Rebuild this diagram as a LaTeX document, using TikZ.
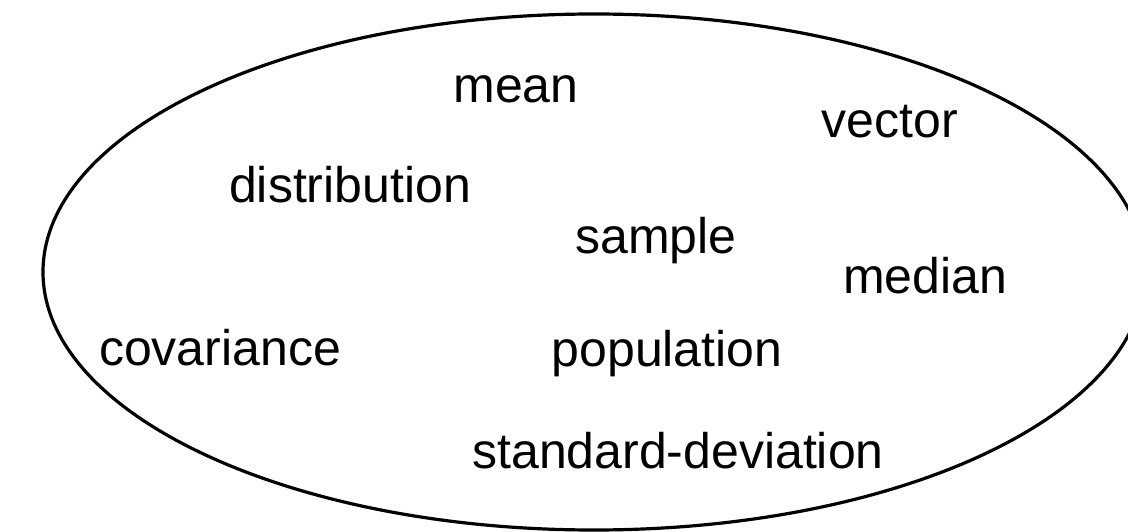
\documentclass[tikz,border=0pt]{standalone}
\usepackage{fontspec}
\setmainfont{Liberation Sans}
\begin{document}
\begin{tikzpicture}[x=1pt,y=-1pt,
  term/.style={font=\fontsize{50}{56}\selectfont, inner sep=0pt, anchor=base},
  outline/.style={line width=3.2pt, draw=black}]
\useasboundingbox (0,0) rectangle (1128,532);
% the set boundary
\draw[outline] (594,272) ellipse [x radius=551, y radius=258];
% the terms inside the set
\node[term] (mean)   at (516,103) {mean};
\node[term] (vector) at (890,138) {vector};
\node[term] (dist)   at (350,203) {distribution};
\node[term] (sample) at (656,253) {sample};
\node[term] (median) at (925,293) {median};
\node[term] (cov)    at (220,365) {covariance};
\node[term] (pop)    at (667,366) {population};
\node[term] (sd)     at (678,468) {standard-deviation};
\end{tikzpicture}
\end{document}
